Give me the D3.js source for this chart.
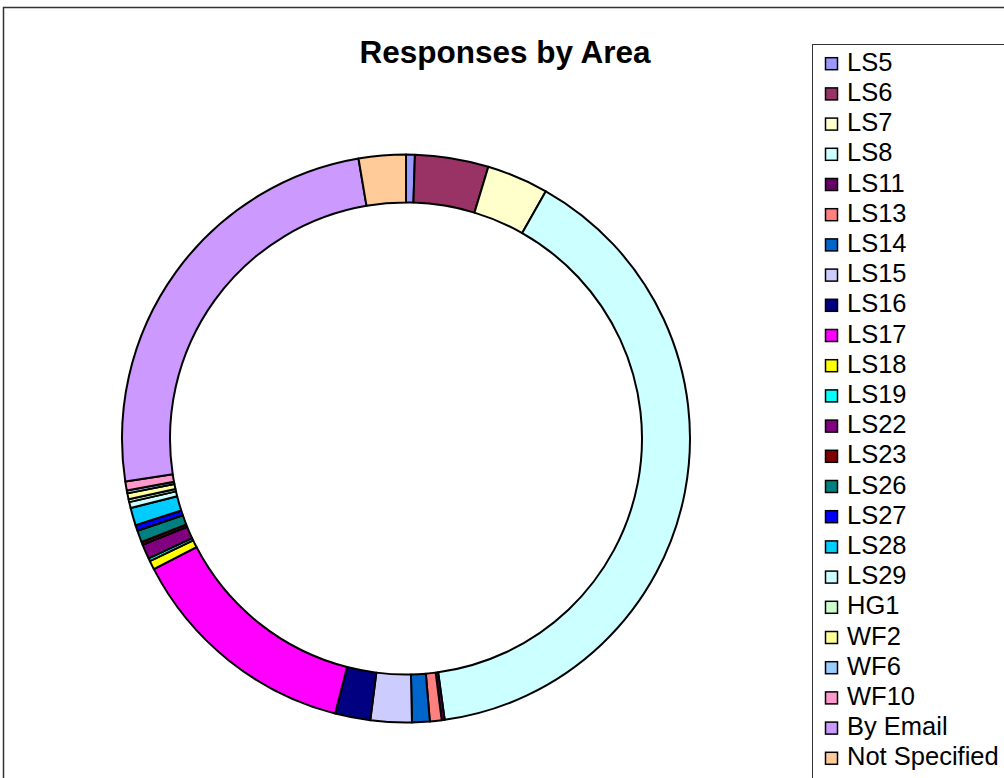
<!DOCTYPE html>
<html>
<head>
<meta charset="utf-8" />
<title>Responses by Area</title>
<script src="https://cdn.jsdelivr.net/npm/d3@7"></script>
<style>
  body { margin: 0; background: #fff; }
  svg { display: block; font-family: Arial, "Liberation Sans", sans-serif; }
  .slice path { stroke: #000; stroke-width: 2px; stroke-linejoin: round; }
  .legend rect { stroke: #000; stroke-width: 1.5px; }
</style>
</head>
<body>
<svg id="chart" width="1004" height="778"></svg>
<script>
// areas, in the order Excel draws them (clockwise from 12 o'clock)
var areas = ["LS5", "LS6", "LS7", "LS8", "LS11", "LS13", "LS14", "LS15", "LS16", "LS17",
  "LS18", "LS19", "LS22", "LS23", "LS26", "LS27", "LS28", "LS29", "HG1", "WF2",
  "WF6", "WF10", "By Email", "Not Specified"];

// responses per area
var responses = [3, 25, 21, 237, 1, 4, 6, 14, 12, 80,
  3, 1, 5, 1, 4, 2, 6, 2, 1, 2,
  1, 3, 148, 16];

var colours = ["#9999FF", "#993366", "#FFFFCC", "#CCFFFF", "#660066", "#FF8080", "#0066CC", "#CCCCFF", "#000080", "#FF00FF",
  "#FFFF00", "#00FFFF", "#800080", "#800000", "#008080", "#0000FF", "#00CCFF", "#CCFFFF", "#CCFFCC", "#FFFF99",
  "#99CCFF", "#FF99CC", "#CC99FF", "#FFCC99"];

var data = areas.map(function(a, i) { return { area: a, value: responses[i] }; });

var svg = d3.select("#chart");

// chart frame
svg.append("rect")
  .attr("x", 3.5).attr("y", 7.5)
  .attr("width", 1100).attr("height", 900)
  .attr("fill", "#fff")
  .attr("stroke", "#333").attr("stroke-width", 1.5);

svg.append("text")
  .attr("x", 505).attr("y", 63)
  .attr("text-anchor", "middle")
  .attr("font-size", "31.5px")
  .attr("font-weight", "bold")
  .text("Responses by Area");

// doughnut
var cx = 406, cy = 438.5, rOuter = 284, rInner = 236;

var pie = d3.pie().sort(null).value(function(d) { return d.value; });
var arc = d3.arc().innerRadius(rInner).outerRadius(rOuter);
var colour = d3.scaleOrdinal().domain(areas).range(colours);

svg.append("g")
  .attr("class", "slice")
  .attr("transform", "translate(" + cx + "," + cy + ")")
  .selectAll("path")
  .data(pie(data))
  .enter().append("path")
  .attr("d", arc)
  .attr("fill", function(d) { return colour(d.data.area); });

// legend
svg.append("rect")
  .attr("x", 812.5).attr("y", 44.5)
  .attr("width", 300).attr("height", 800)
  .attr("fill", "#fff")
  .attr("stroke", "#333").attr("stroke-width", 1);

var step = 30.2;
var y = d3.scaleLinear().domain([0, 1]).range([70.7, 70.7 + step]);

var item = svg.append("g")
  .attr("class", "legend")
  .selectAll("g")
  .data(areas)
  .enter().append("g")
  .attr("transform", function(d, i) { return "translate(0," + y(i) + ")"; });

item.append("rect")
  .attr("x", 825.5).attr("y", -13)
  .attr("width", 12).attr("height", 12)
  .attr("fill", function(d) { return colour(d); });

item.append("text")
  .attr("x", 847)
  .attr("font-size", "25.5px")
  .text(function(d) { return d; });
</script>
</body>
</html>
